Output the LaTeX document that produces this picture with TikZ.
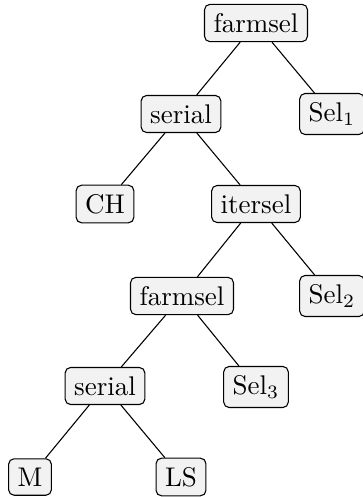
\documentclass[tikz,border=0pt]{standalone}
\begin{document}
\begin{tikzpicture}[x=0.37037pt,y=-0.37037pt,
  tnode/.style={draw,rounded corners=2pt,fill=gray!10,inner sep=3.33pt,font=\normalsize},
  edge/.style={line width=0.4pt}]
\useasboundingbox (0,0) rectangle (363,497);
\node[tnode] (f1) at (256,23) {farmsel};
\node[tnode] (s1) at (181,114) {serial};
\node[tnode] (sel1) at (332,114) {Sel$_1$};
\node[tnode] (ch) at (105,204) {CH};
\node[tnode] (it) at (256,204) {itersel};
\node[tnode] (f2) at (182,296) {farmsel};
\node[tnode] (sel2) at (332,296) {Sel$_2$};
\node[tnode] (s2) at (105,386) {serial};
\node[tnode] (sel3) at (256,387) {Sel$_3$};
\node[tnode] (m) at (30,477) {M};
\node[tnode] (ls) at (181,477) {LS};
\draw[edge] (f1) -- (s1);
\draw[edge] (f1) -- (sel1);
\draw[edge] (s1) -- (ch);
\draw[edge] (s1) -- (it);
\draw[edge] (it) -- (f2);
\draw[edge] (it) -- (sel2);
\draw[edge] (f2) -- (s2);
\draw[edge] (f2) -- (sel3);
\draw[edge] (s2) -- (m);
\draw[edge] (s2) -- (ls);
\end{tikzpicture}
\end{document}
